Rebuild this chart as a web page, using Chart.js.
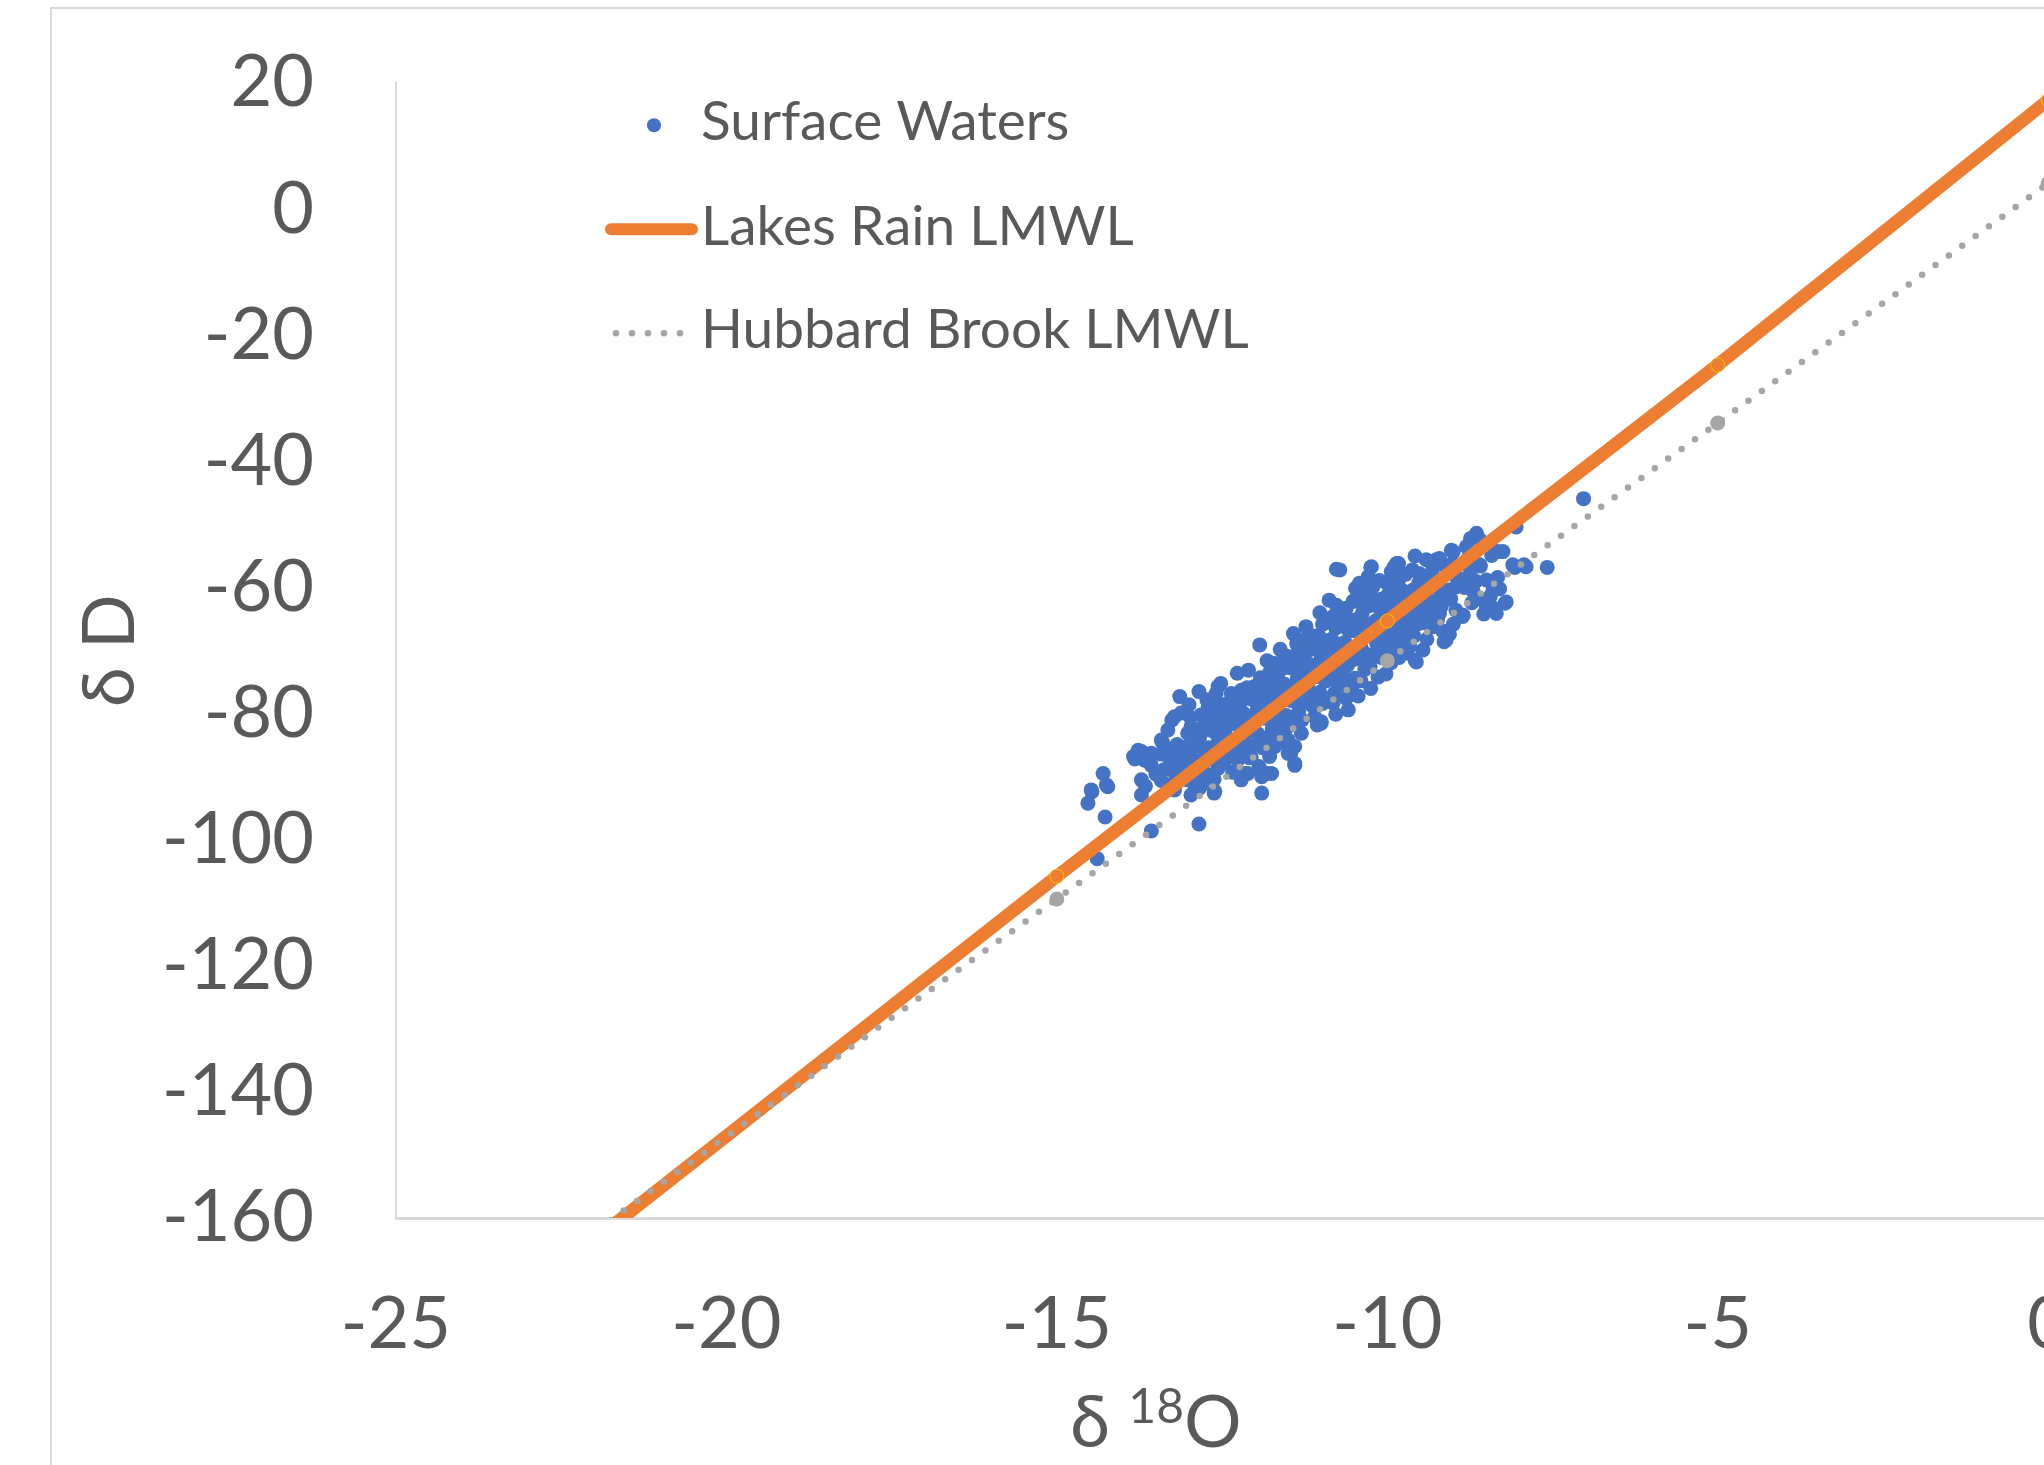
<!DOCTYPE html>
<html>
<head>
<meta charset="utf-8">
<script src="https://cdn.jsdelivr.net/npm/chart.js@4"></script>
<style>
	html, body { margin: 0; padding: 0; background: #fff; overflow: hidden; }
	#frame { position: absolute; left: 50px; top: 7px; width: 3000px; height: 3000px; border: 2px solid #d9d9d9; }
	/* canvas is wider/taller than the window: the picture is cropped at x = 0 like the original */
	#wrap { position: absolute; left: 0; top: -42px; width: 2133px; height: 1542px; }
</style>
</head>
<body>
<div id="frame"></div>
<div id="wrap"><canvas id="isoChart"></canvas></div>
<script>
// labels
var legendLabels = ['Surface Waters', 'Lakes Rain LMWL', 'Hubbard Brook LMWL'];
var xTitleParts = ['\u03b4 ', '18', 'O'];
var yTitle = '\u03b4 D';

// axis ranges
var xTicks = { min: -25, max: 0, step: 5 };
var yTicks = { min: -160, max: 20, step: 20 };

// LMWL lines (d18O, dD); the -25 end lies below the axis and gets clipped
var lakesRainO18 = [-25, -15, -10, -5, 0];
var lakesRainD = [-188.2, -105.8, -65.3, -24.7, 17.3];
var hubbardO18 = [-25, -15, -10, -5, 0];
var hubbardD = [-184.8, -109.4, -71.6, -33.9, 4.1];

// surface water samples [d18O, dD]
var surfaceWaters = [
	[-7.03, -45.9], [-8.05, -50.4], [-8.65, -51.4], [-8.59, -52.5], [-8.74, -52.2], [-8.33, -54.3],
	[-8.42, -54.9], [-9.58, -55.0], [-9.03, -54.1], [-7.58, -56.8], [-7.93, -56.4], [-8.07, -56.8],
	[-9.26, -55.6], [-9.14, -56.4], [-9.90, -56.8], [-9.83, -56.2], [-10.25, -56.8], [-10.77, -57.1],
	[-8.59, -56.6], [-8.33, -58.4], [-8.88, -58.8], [-8.83, -60.0], [-9.49, -58.3], [-9.38, -59.1],
	[-10.42, -59.3], [-10.48, -60.1], [-10.88, -62.0], [-10.77, -62.8], [-10.62, -63.3], [-8.22, -62.5],
	[-8.39, -63.3], [-8.54, -64.2], [-8.86, -64.6], [-9.14, -68.6], [-9.58, -71.5], [-10.25, -76.0],
	[-10.59, -79.4], [-11.0, -81.3], [-11.40, -88.2], [-11.93, -69.1], [-11.37, -68.9], [-11.23, -66.2],
	[-10.13, -63.0], [-13.84, -86.8], [-13.72, -86.0], [-13.57, -88.2], [-13.43, -86.4], [-13.26, -87.6],
	[-13.11, -88.5], [-13.29, -85.8], [-13.14, -77.3], [-13.26, -81.0], [-12.85, -76.5], [-12.73, -77.8],
	[-12.59, -76.8], [-12.52, -75.2], [-12.27, -73.6], [-12.1, -73.1], [-14.30, -89.5], [-14.25, -91.3],
	[-14.47, -92.4], [-14.53, -94.2], [-13.72, -90.5], [-13.72, -92.9], [-14.27, -96.4], [-12.85, -97.5],
	[-13.57, -98.6], [-14.39, -103.0], [-11.90, -92.6], [-12.62, -92.6], [-12.97, -92.9], [-12.85, -91.9],
	[-13.31, -91.3], [-13.19, -90.5], [-12.16, -89.5], [-11.81, -89.5], [-11.46, -86.3], [-11.52, -84.7],
	[-11.06, -81.8],
	[-8.25, -54.3], [-8.10, -56.4], [-7.90, -56.7], [-9.0, -54.3], [-8.8, -53.5], [-9.86, -56.2],
	[-9.94, -57.5], [-10.24, -56.7], [-10.29, -58.3], [-10.72, -57.2], [-9.41, -55.6], [-9.21, -55.4],
	[-9.51, -57.8], [-9.31, -56.7], [-8.6, -56.4], [-8.8, -58.8], [-8.9, -58.6], [-8.5, -58.8],
	[-8.4, -60.4], [-8.55, -62.0], [-8.5, -63.0], [-8.2, -62.3], [-8.35, -64.1], [-8.85, -64.4],
	[-9.11, -68.3], [-10.22, -59.9], [-10.27, -60.9], [-10.47, -61.7], [-10.06, -63.6], [-9.96, -62.8],
	[-9.61, -60.4], [-9.51, -59.3], [-9.21, -58.8], [-9.71, -70.4], [-9.56, -71.8], [-9.31, -66.2],
	[-9.21, -64.1], [-9.16, -61.5], [-9.06, -60.4], [-8.96, -59.9], [-8.3, -60.2],
	[-12.56, -75.7], [-12.36, -76.8], [-13.22, -80.5], [-13.12, -79.9], [-12.97, -82.1], [-13.02, -83.1],
	[-13.32, -82.6], [-13.42, -84.2], [-13.77, -85.8], [-13.82, -87.2], [-13.67, -87.4], [-13.57, -86.3],
	[-13.32, -86.8], [-13.22, -87.9], [-13.12, -87.2], [-13.27, -88.9], [-14.23, -91.6], [-14.48, -92.1],
	[-12.61, -92.3], [-12.91, -92.1], [-12.81, -91.4], [-13.32, -91.6], [-13.22, -92.1], [-13.02, -90.5],
	[-12.56, -79.9], [-12.61, -77.8], [-12.71, -78.9], [-12.21, -76.3], [-12.01, -75.7], [-11.91, -76.8],
	[-12.61, -85.2], [-11.70, -85.2], [-11.5, -84.2], [-11.3, -83.1], [-11.4, -85.2], [-11.5, -86.3],
	[-11.4, -87.9], [-11.75, -89.5], [-11.9, -90.0], [-12.11, -89.5], [-12.21, -90.5], [-11.0, -81.5],
	[-11.1, -80.5], [-10.80, -76.8],
	[-13.62, -87.4], [-13.5, -89.6], [-13.66, -91.5],
	[-13.4, -84.6], [-13.38, -88.9], [-13.42, -90.6],
	[-13.18, -84.9], [-13.14, -86.2],
	[-13.0, -78.6], [-12.98, -80.6], [-13.04, -85.3], [-12.96, -87.0], [-13.06, -89.4],
	[-12.82, -80.2], [-12.78, -82.0], [-12.84, -83.8], [-12.76, -85.6], [-12.8, -87.3], [-12.86, -89.0], [-12.74, -90.1],
	[-12.64, -81.6], [-12.58, -83.3], [-12.66, -87.0], [-12.56, -88.7], [-12.62, -90.4],
	[-12.42, -78.4], [-12.38, -80.3], [-12.44, -82.2], [-12.4, -84.0], [-12.36, -85.9], [-12.46, -87.6], [-12.34, -89.3],
	[-12.22, -78.1], [-12.18, -79.9], [-12.24, -81.8], [-12.16, -83.5], [-12.2, -85.4], [-12.26, -87.3],
	[-12.02, -77.9], [-11.98, -79.7], [-12.04, -81.4], [-11.96, -83.2], [-12.0, -85.0], [-12.06, -86.9], [-11.94, -88.4],
	[-11.82, -71.6], [-11.78, -73.5], [-11.84, -75.2], [-11.76, -77.1], [-11.8, -78.9], [-11.86, -80.7], [-11.74, -82.4],
	[-11.82, -84.0], [-11.78, -86.8],
	[-11.62, -69.8], [-11.58, -71.7], [-11.64, -73.4], [-11.56, -75.3], [-11.6, -77.0], [-11.66, -78.8], [-11.54, -80.6],
	[-11.62, -82.3],
	[-11.42, -67.3], [-11.38, -70.7], [-11.44, -72.5], [-11.36, -74.3], [-11.4, -76.1], [-11.46, -77.9], [-11.34, -79.6],
	[-11.42, -81.4],
	[-11.22, -68.0], [-11.18, -69.9], [-11.24, -71.7], [-11.16, -73.5], [-11.2, -75.3], [-11.26, -77.0], [-11.14, -78.7],
	[-11.02, -64.0], [-10.98, -65.8], [-11.04, -67.6], [-10.96, -69.4], [-11.0, -71.2], [-11.06, -73.0], [-10.94, -74.8],
	[-11.02, -76.6], [-10.98, -78.4],
	[-10.82, -64.6], [-10.78, -66.4], [-10.84, -68.2], [-10.76, -70.0], [-10.8, -71.8], [-10.86, -73.6], [-10.74, -75.3],
	[-10.82, -78.3], [-10.78, -80.1],
	[-10.62, -65.1], [-10.58, -66.9], [-10.64, -68.7], [-10.56, -70.5], [-10.6, -72.3], [-10.66, -74.1], [-10.54, -75.9],
	[-10.62, -77.6],
	[-10.42, -62.3], [-10.38, -64.1], [-10.44, -65.9], [-10.36, -67.7], [-10.4, -69.5], [-10.46, -71.3], [-10.34, -73.0],
	[-10.4, -74.8], [-10.44, -77.2],
	[-10.22, -61.9], [-10.18, -65.3], [-10.24, -67.1], [-10.16, -68.9], [-10.2, -70.7], [-10.26, -72.5], [-10.14, -74.2],
	[-10.02, -59.2], [-9.98, -61.0], [-10.04, -64.8], [-9.96, -66.6], [-10.0, -68.4], [-10.06, -70.2], [-9.94, -71.9],
	[-10.02, -73.7],
	[-9.82, -58.6], [-9.78, -60.4], [-9.84, -62.2], [-9.76, -64.0], [-9.8, -65.8], [-9.86, -67.6], [-9.74, -69.3],
	[-9.82, -71.1],
	[-9.62, -57.2], [-9.58, -62.3], [-9.64, -64.1], [-9.56, -65.9], [-9.6, -67.7], [-9.66, -69.4],
	[-9.42, -61.0], [-9.38, -62.8], [-9.44, -64.6], [-9.4, -68.2], [-9.46, -69.9],
	[-9.22, -60.1], [-9.18, -62.9], [-9.24, -65.1], [-9.16, -66.9],
	[-9.02, -56.2], [-8.98, -58.0], [-9.04, -61.8], [-8.96, -63.6], [-9.0, -65.8], [-9.06, -67.4],
	[-8.78, -55.4], [-8.74, -57.3], [-8.7, -60.6], [-8.72, -62.4], [-8.66, -59.0],
	[-8.44, -61.4],
	// dense core along the line
	[-12.92, -83.3], [-12.88, -85.1], [-12.93, -87.9], [-12.87, -89.8],
	[-12.72, -80.8], [-12.68, -82.6], [-12.71, -85.4], [-12.67, -87.2], [-12.73, -89.6],
	[-12.52, -78.6], [-12.48, -81.5], [-12.53, -83.2], [-12.47, -86.2], [-12.51, -88.0],
	[-12.31, -77.0], [-12.28, -79.8], [-12.32, -81.6], [-12.27, -84.5], [-12.33, -86.3], [-12.29, -89.1],
	[-12.12, -75.9], [-12.08, -77.6], [-12.11, -80.5], [-12.07, -82.3], [-12.13, -85.2], [-12.09, -87.0],
	[-11.92, -74.3], [-11.88, -76.0], [-11.91, -78.9], [-11.87, -80.7], [-11.93, -83.6], [-11.89, -85.4],
	[-11.72, -72.0], [-11.68, -74.9], [-11.71, -76.6], [-11.67, -79.6], [-11.73, -81.3], [-11.69, -84.2],
	[-11.52, -70.9], [-11.48, -72.7], [-11.51, -75.6], [-11.47, -77.4], [-11.53, -80.3], [-11.49, -82.0],
	[-11.32, -68.8], [-11.28, -71.7], [-11.31, -73.4], [-11.27, -76.4], [-11.33, -78.1], [-11.29, -81.0],
	[-11.12, -67.7], [-11.08, -69.4], [-11.11, -72.3], [-11.07, -74.1], [-11.13, -77.0], [-11.09, -78.7],
	[-10.92, -65.5], [-10.88, -68.4], [-10.91, -70.1], [-10.87, -73.1], [-10.93, -74.8], [-10.89, -77.7],
	[-10.72, -64.4], [-10.68, -66.1], [-10.71, -69.0], [-10.67, -70.8], [-10.73, -73.7], [-10.69, -75.4],
	[-10.52, -62.2], [-10.48, -65.1], [-10.51, -66.8], [-10.47, -69.8], [-10.53, -71.5], [-10.49, -74.4],
	[-10.32, -61.2], [-10.28, -62.9], [-10.31, -65.8], [-10.27, -67.6], [-10.33, -70.5], [-10.29, -72.2],
	[-10.12, -58.9], [-10.08, -61.8], [-10.11, -63.5], [-10.07, -66.5], [-10.13, -68.2], [-10.09, -71.1],
	[-9.92, -60.2], [-9.88, -61.9], [-9.91, -64.9], [-9.87, -66.6], [-9.93, -69.5],
	[-9.72, -57.9], [-9.68, -60.8], [-9.71, -62.6], [-9.67, -65.5], [-9.73, -67.2],
	[-9.52, -59.2], [-9.48, -61.0], [-9.51, -63.9], [-9.47, -65.6],
	[-9.32, -57.6], [-9.28, -59.3], [-9.31, -62.2], [-9.27, -63.9]
];

var blue = '#4472c4';
var orange = '#ed7d31';
var gray = '#a5a5a5';
var textColor = '#595959';
var fontFamily = 'Lato, "Noto Sans", sans-serif';

function toPoints(xs, ys) {
	var out = [];
	for (var i = 0; i < xs.length; i++) {
		out.push({ x: xs[i], y: ys[i] });
	}
	return out;
}

// legend + axis titles drawn by hand (Excel-like layout, superscript in x title)
var decorPlugin = {
	id: 'decor',
	afterDraw: function(chart) {
		var ctx = chart.ctx;
		var a = chart.chartArea;
		ctx.save();
		ctx.fillStyle = textColor;
		ctx.textBaseline = 'alphabetic';
		ctx.textAlign = 'left';

		// legend
		var lx = a.left + 213;
		var tx = a.left + 305;
		ctx.font = '55px ' + fontFamily;
		ctx.fillText(legendLabels[0], tx, a.top + 57);
		ctx.fillText(legendLabels[1], tx, a.top + 162);
		ctx.fillText(legendLabels[2], tx, a.top + 265);

		ctx.beginPath();
		ctx.fillStyle = blue;
		ctx.arc(a.left + 258, a.top + 42, 7, 0, Math.PI * 2);
		ctx.fill();

		ctx.beginPath();
		ctx.strokeStyle = orange;
		ctx.lineWidth = 12;
		ctx.lineCap = 'round';
		ctx.moveTo(lx + 2, a.top + 146);
		ctx.lineTo(a.left + 296, a.top + 146);
		ctx.stroke();

		ctx.beginPath();
		ctx.strokeStyle = gray;
		ctx.lineWidth = 6.5;
		ctx.setLineDash([0, 16]);
		ctx.moveTo(lx + 7, a.top + 250);
		ctx.lineTo(a.left + 290, a.top + 250);
		ctx.stroke();
		ctx.setLineDash([]);

		// x title: delta 18O
		ctx.fillStyle = textColor;
		var big = '72px ' + fontFamily;
		var small = '48px ' + fontFamily;
		ctx.font = big;
		var w0 = ctx.measureText(xTitleParts[0]).width;
		var w2 = ctx.measureText(xTitleParts[2]).width;
		ctx.font = small;
		var w1 = ctx.measureText(xTitleParts[1]).width;
		var cx = a.left + (a.right - a.left) * 0.46;
		var sx = cx - (w0 + w1 + w2) / 2;
		var by = a.bottom + 229;
		ctx.font = big;
		ctx.fillText(xTitleParts[0], sx, by);
		ctx.font = small;
		ctx.fillText(xTitleParts[1], sx + w0, by - 24);
		ctx.font = big;
		ctx.fillText(xTitleParts[2], sx + w0 + w1, by);

		// y title
		ctx.translate(a.left - 285, (a.top + a.bottom) / 2);
		ctx.rotate(-Math.PI / 2);
		ctx.textAlign = 'center';
		ctx.textBaseline = 'middle';
		ctx.font = big;
		ctx.fillText(yTitle, 0, 0);
		ctx.restore();
	}
};

var ctx = document.getElementById('isoChart').getContext('2d');
var isoChart = new Chart(ctx, {
	type: 'scatter',
	data: {
		datasets: [
			{ // surface water samples, drawn underneath
				label: legendLabels[0],
				data: surfaceWaters.map(function(p) { return { x: p[0], y: p[1] }; }),
				backgroundColor: blue,
				borderWidth: 0,
				pointRadius: 7.5,
				order: 3
			},
			{ // Lakes Rain LMWL
				label: legendLabels[1],
				data: toPoints(lakesRainO18, lakesRainD),
				showLine: true,
				borderColor: orange,
				borderWidth: 13,
				pointRadius: 7,
				pointBackgroundColor: orange,
				pointBorderColor: '#ffc000',
				pointBorderWidth: 1,
				order: 2
			},
			{ // Hubbard Brook LMWL, dotted
				label: legendLabels[2],
				data: toPoints(hubbardO18, hubbardD),
				showLine: true,
				borderColor: gray,
				borderWidth: 6.5,
				borderDash: [0, 16.5],
				borderCapStyle: 'round',
				pointRadius: 7.5,
				pointBackgroundColor: gray,
				pointBorderWidth: 0,
				order: 1
			}
		]
	},
	options: {
		responsive: true,
		maintainAspectRatio: false,
		devicePixelRatio: 1,
		animation: false,
		layout: {
			padding: { top: 83, right: 0, bottom: 82, left: 0 }
		},
		scales: {
			x: {
				type: 'linear',
				min: xTicks.min,
				max: xTicks.max,
				afterFit: function(scale) { scale.height = 200; },
				grid: { display: false, drawTicks: false },
				border: { display: true, color: '#d9d9d9', width: 3 },
				ticks: {
					stepSize: xTicks.step,
					padding: 64,
					color: textColor,
					font: { family: fontFamily, size: 72 }
				}
			},
			y: {
				type: 'linear',
				min: yTicks.min,
				max: yTicks.max,
				afterFit: function(scale) { scale.width = 396; },
				grid: { display: false, drawTicks: false },
				border: { display: true, color: '#d9d9d9', width: 2 },
				ticks: {
					stepSize: yTicks.step,
					padding: 82,
					color: textColor,
					font: { family: fontFamily, size: 72 }
				}
			}
		},
		plugins: {
			legend: { display: false },
			tooltip: { enabled: false }
		}
	},
	plugins: [decorPlugin]
});
</script>
</body>
</html>
